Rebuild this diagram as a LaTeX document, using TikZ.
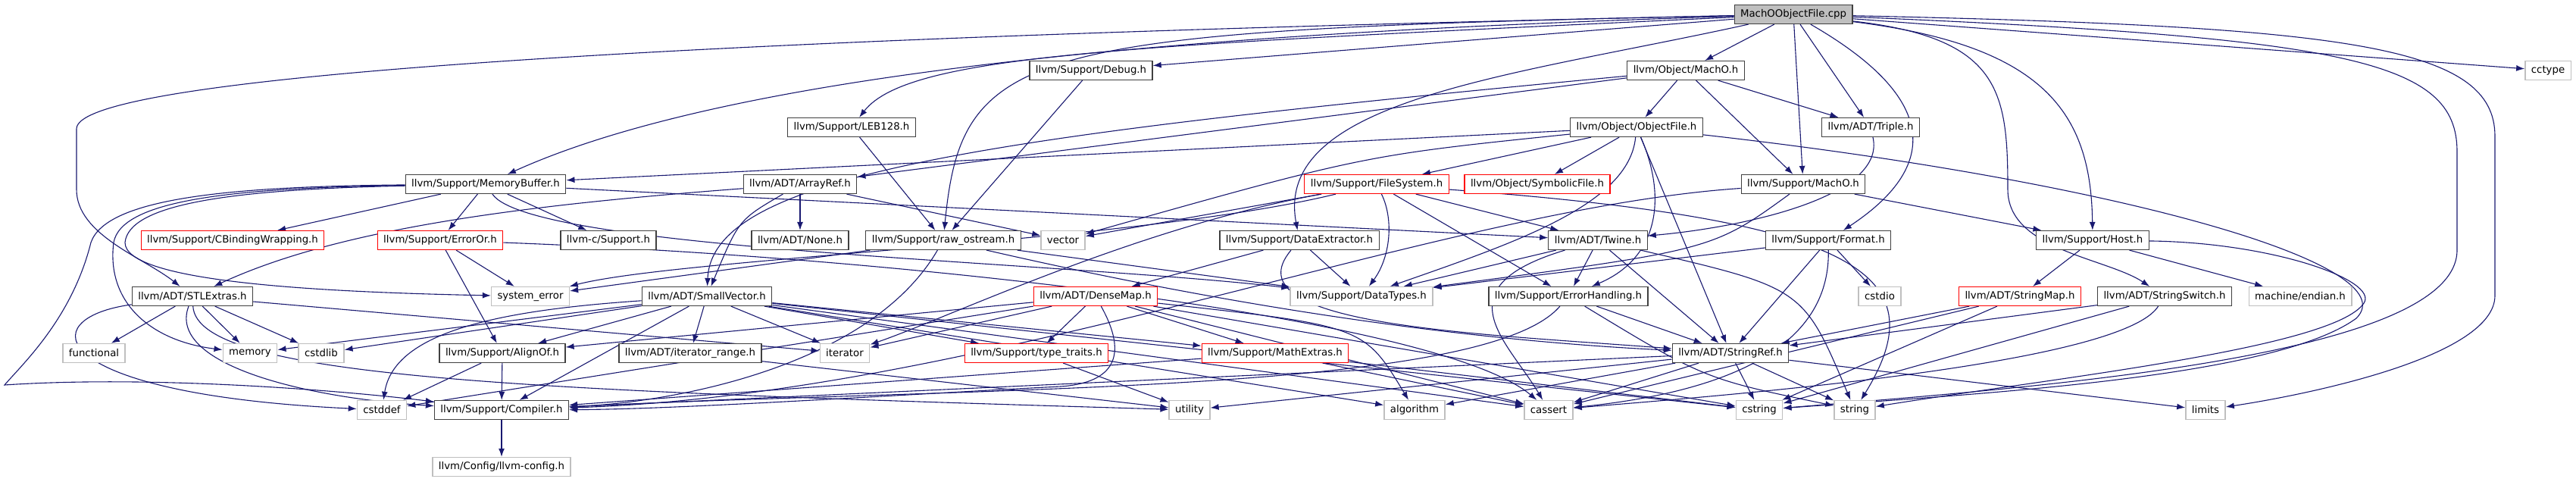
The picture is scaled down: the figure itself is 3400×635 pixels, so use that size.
\documentclass[tikz,border=0pt]{standalone}
\usepackage{fontspec}
\setmainfont{DejaVu Sans}
\usetikzlibrary{arrows.meta}
\definecolor{depblue}{HTML}{191970}
\definecolor{hdrborder}{HTML}{404040}
\definecolor{truncred}{HTML}{FF0000}
\definecolor{sysborder}{HTML}{BFBFBF}
\definecolor{rootfill}{HTML}{BFBFBF}
\pgfdeclarelayer{edges}
\pgfsetlayers{edges,main}
\tikzset{
hdr/.style={
draw=hdrborder,
fill=white,
line width=1.2pt,
minimum height=25pt,
inner xsep=8pt,
inner ysep=0pt,
font=\fontsize{13.3}{16}\selectfont
},
truncated/.style={
hdr,
draw=truncred
},
syshdr/.style={
hdr,
draw=sysborder,
line width=1.4pt
},
rootfile/.style={
hdr,
fill=rootfill
},
dep/.style={
-{Latex[length=11pt,width=8pt]},
line width=1.1pt,
draw=depblue
}
}

\begin{document}
\begin{tikzpicture}[x=1pt, y=-1pt]
\useasboundingbox (0,0) rectangle (3400,635);

% row 0
\node[rootfile] (root) at (2367,19) {MachOObjectFile.cpp};
% row 1
\node[hdr] (debug) at (1440,93) {llvm/Support/Debug.h};
\node[hdr] (objmacho) at (2225,93) {llvm/Object/MachO.h};
\node[syshdr] (cctype) at (3363,93) {cctype};
% row 2
\node[hdr] (leb) at (1124,168) {llvm/Support/LEB128.h};
\node[hdr] (objfile) at (2160,168) {llvm/Object/ObjectFile.h};
\node[hdr] (triple) at (2469,168) {llvm/ADT/Triple.h};
% row 3
\node[hdr] (membuf) at (641,243) {llvm/Support/MemoryBuffer.h};
\node[hdr] (arrayref) at (1056,243) {llvm/ADT/ArrayRef.h};
\node[truncated] (filesys) at (1817,243) {llvm/Support/FileSystem.h};
\node[truncated] (symfile) at (2029,243) {llvm/Object/SymbolicFile.h};
\node[hdr] (supmacho) at (2380,243) {llvm/Support/MachO.h};
% row 4
\node[truncated] (cbind) at (307,317) {llvm/Support/CBindingWrapping.h};
\node[truncated] (erroror) at (581,317) {llvm/Support/ErrorOr.h};
\node[hdr] (csupport) at (803,317) {llvm-c/Support.h};
\node[hdr] (none) at (1056,317) {llvm/ADT/None.h};
\node[hdr] (rawos) at (1245,317) {llvm/Support/raw\_ostream.h};
\node[syshdr] (vector) at (1403,317) {vector};
\node[hdr] (dataext) at (1715,317) {llvm/Support/DataExtractor.h};
\node[hdr] (twine) at (2109,317) {llvm/ADT/Twine.h};
\node[hdr] (format) at (2413,317) {llvm/Support/Format.h};
\node[hdr] (host) at (2762,317) {llvm/Support/Host.h};
% row 5
\node[hdr] (stlext) at (254,391) {llvm/ADT/STLExtras.h};
\node[syshdr] (syserr) at (700,391) {system\_error};
\node[hdr] (smallvec) at (933,391) {llvm/ADT/SmallVector.h};
\node[truncated] (densemap) at (1446,391) {llvm/ADT/DenseMap.h};
\node[syshdr] (datatypes) at (1797,391) {llvm/Support/DataTypes.h};
\node[hdr] (errhand) at (2070,391) {llvm/Support/ErrorHandling.h};
\node[syshdr] (cstdio) at (2481,391) {cstdio};
\node[truncated] (strmap) at (2666,391) {llvm/ADT/StringMap.h};
\node[hdr] (strswitch) at (2857,391) {llvm/ADT/StringSwitch.h};
\node[syshdr] (endian) at (3036,391) {machine/endian.h};
% row 6
\node[syshdr] (functional) at (124,466) {functional};
\node[syshdr] (memory) at (330,466) {memory};
\node[syshdr] (cstdlib) at (424,466) {cstdlib};
\node[hdr] (alignof) at (663,466) {llvm/Support/AlignOf.h};
\node[hdr] (itrange) at (911,466) {llvm/ADT/iterator\_range.h};
\node[syshdr] (iterator) at (1115,466) {iterator};
\node[truncated] (typetraits) at (1368,466) {llvm/Support/type\_traits.h};
\node[truncated] (mathext) at (1683,466) {llvm/Support/MathExtras.h};
\node[hdr] (strref) at (2284,466) {llvm/ADT/StringRef.h};
% row 7
\node[syshdr] (cstddef) at (504,541) {cstddef};
\node[hdr] (compiler) at (662,541) {llvm/Support/Compiler.h};
\node[syshdr] (utility) at (1570,541) {utility};
\node[syshdr] (algorithm) at (1867,541) {algorithm};
\node[syshdr] (cassert) at (2044,541) {cassert};
\node[syshdr] (cstring) at (2322,541) {cstring};
\node[syshdr] (string) at (2448,541) {string};
\node[syshdr] (limits) at (2911,541) {limits};
% row 8
\node[syshdr] (llvmconfig) at (662,616) {llvm/Config/llvm-config.h};

\begin{pgfonlayer}{edges}
% MachOObjectFile.cpp
\foreach \dst in {debug, objmacho, cctype, triple, supmacho}
  \draw[dep] (root) -- (\dst);
\draw[dep] (root) .. controls (1500,60) and (1200,70) .. (leb);
\draw[dep] (root) .. controls (1700,40) and (1000,80) .. (membuf);
\draw[dep] (root) .. controls (1350,40) and (1270,60) .. (rawos);
\draw[dep] (root) .. controls (2000,100) and (1680,130) .. (dataext);
\draw[dep] (root) .. controls (900,50) and (101,100) .. (101,170) -- (101,250)
  .. controls (101,310) and (190,340) .. (stlext);
\draw[dep] (root) .. controls (2560,130) and (2560,220) .. (format);
\draw[dep] (root) .. controls (2700,60) and (2760,150) .. (host);
\draw[dep] (root) .. controls (2640,50) and (2650,120) .. (2650,250)
  .. controls (2650,330) and (2780,340) .. (strswitch);
\draw[dep] (root) .. controls (3100,50) and (3243,80) .. (3243,200) -- (3243,330)
  .. controls (3243,470) and (2700,510) .. (cstring);
\draw[dep] (root) .. controls (3100,35) and (3293,60) .. (3293,180) -- (3293,390)
  .. controls (3293,470) and (3050,520) .. (limits);

% Debug.h, LEB128.h
\draw[dep] (debug) -- (rawos);
\draw[dep] (leb) -- (rawos);

% Object/MachO.h
\foreach \dst in {objfile, triple, supmacho, arrayref}
  \draw[dep] (objmacho) -- (\dst);
\draw[dep] (objmacho) .. controls (1300,180) and (940,230) .. (smallvec);

% ObjectFile.h
\foreach \dst in {membuf, filesys, symfile, strref}
  \draw[dep] (objfile) -- (\dst);
\draw[dep] (objfile) .. controls (1800,205) .. (vector);
\draw[dep] (objfile) .. controls (2150,270) and (2000,320) .. (datatypes);
\draw[dep] (objfile) .. controls (2200,260) and (2190,340) .. (errhand);
\draw[dep] (objfile) .. controls (2800,240) and (3180,350) .. (3110,420)
  .. controls (3000,500) and (2600,520) .. (cstring);

% Triple.h, Support/MachO.h
\draw[dep] (triple) .. controls (2490,260) and (2300,300) .. (twine);
\draw[dep] (supmacho) -- (host);
\draw[dep] (supmacho) .. controls (2260,330) .. (datatypes);
\draw[dep] (supmacho) .. controls (1900,275) and (1300,520) .. (compiler);

% FileSystem.h
\foreach \dst in {twine, errhand, vector}
  \draw[dep] (filesys) -- (\dst);
\draw[dep] (filesys) .. controls (1840,290) and (1835,340) .. (datatypes);
\draw[dep] (filesys) .. controls (1500,320) and (900,340) .. (syserr);
\draw[dep] (filesys) .. controls (1500,300) and (1250,420) .. (iterator);
\draw[dep] (filesys) .. controls (2450,290) and (2560,360) .. (string);

% MemoryBuffer.h
\foreach \dst in {cbind, erroror, csupport, twine}
  \draw[dep] (membuf) -- (\dst);
\draw[dep] (membuf) .. controls (700,330) and (1400,345) .. (datatypes);
\draw[dep] (membuf) .. controls (300,246) and (140,262) .. (120,320)
  .. controls (95,420) and (30,480) .. (6,508)
  .. controls (200,495) and (450,515) .. (compiler);
\draw[dep] (membuf) .. controls (300,248) and (160,265) .. (150,320)
  .. controls (140,400) and (200,450) .. (memory);
\draw[dep] (membuf) .. controls (300,250) and (170,270) .. (165,320)
  .. controls (165,370) and (400,385) .. (syserr);

% ArrayRef.h
\draw[dep] (arrayref) -- (none);
\draw[dep] (arrayref) -- (vector);
\draw[dep] (arrayref) .. controls (975,290) .. (smallvec);
\draw[dep] (arrayref) .. controls (700,270) and (450,300) .. (stlext);

% ErrorOr.h
\draw[dep] (erroror) -- (syserr);
\draw[dep] (erroror) -- (alignof);
\draw[dep] (erroror) .. controls (1200,340) and (1900,420) .. (cassert);

% raw_ostream.h
\draw[dep] (rawos) -- (datatypes);
\draw[dep] (rawos) -- (syserr);
\draw[dep] (rawos) .. controls (1650,410) and (1950,450) .. (strref);
\draw[dep] (rawos) .. controls (1150,480) and (900,530) .. (compiler);

% DataExtractor.h
\draw[dep] (dataext) -- (datatypes);
\draw[dep] (dataext) -- (densemap);
\draw[dep] (dataext) .. controls (1620,430) and (1950,440) .. (strref);

% Twine.h
\foreach \dst in {errhand, datatypes, strref}
  \draw[dep] (twine) -- (\dst);
\draw[dep] (twine) .. controls (1900,380) and (1990,450) .. (cassert);
\draw[dep] (twine) .. controls (2380,380) .. (string);

% Format.h, Host.h
\foreach \dst in {strref, cstdio, datatypes}
  \draw[dep] (format) -- (\dst);
\draw[dep] (format) .. controls (2415,420) and (2350,510) .. (cassert);
\draw[dep] (host) -- (strmap);
\draw[dep] (host) -- (endian);
\draw[dep] (host) .. controls (3000,320) and (3140,370) .. (3120,400)
  .. controls (3080,460) and (2700,500) .. (string);

% STLExtras.h
\foreach \dst in {functional, memory, cstdlib, iterator}
  \draw[dep] (stlext) -- (\dst);
\draw[dep] (stlext) .. controls (40,420) and (60,520) .. (cstddef);
\draw[dep] (stlext) .. controls (220,480) and (400,525) .. (compiler);
\draw[dep] (stlext) .. controls (260,500) and (700,515) .. (utility);

% SmallVector.h
\foreach \dst in {itrange, alignof, compiler, iterator, typetraits, mathext,
                  memory, cstdlib, algorithm, cassert, cstring}
  \draw[dep] (smallvec) -- (\dst);
\draw[dep] (smallvec) .. controls (650,410) and (520,440) .. (cstddef);

% DenseMap.h
\foreach \dst in {typetraits, mathext, iterator, alignof, cstddef, cassert, cstring}
  \draw[dep] (densemap) -- (\dst);
\draw[dep] (densemap) .. controls (1800,430) .. (algorithm);
\draw[dep] (densemap) .. controls (1490,470) and (1470,505) .. (1400,510)
  .. controls (1200,520) and (900,540) .. (compiler);

% ErrorHandling.h
\draw[dep] (errhand) -- (strref);
\draw[dep] (errhand) .. controls (2250,500) .. (string);
\draw[dep] (errhand) .. controls (1960,520) and (1300,510) .. (compiler);

% StringMap.h, StringSwitch.h
\foreach \dst in {strref, cassert, cstring}
  \draw[dep] (strmap) -- (\dst);
\draw[dep] (strswitch) -- (strref);
\draw[dep] (strswitch) -- (cstring);
\draw[dep] (strswitch) .. controls (2800,480) and (2300,520) .. (cassert);

% AlignOf.h, type_traits.h, iterator_range.h, MathExtras.h
\draw[dep] (alignof) -- (compiler);
\draw[dep] (alignof) -- (cstddef);
\draw[dep] (typetraits) -- (utility);
\draw[dep] (itrange) -- (utility);
\foreach \dst in {compiler, cassert, cstring}
  \draw[dep] (mathext) -- (\dst);

% StringRef.h
\foreach \dst in {compiler, utility, algorithm, cassert, cstring, string, limits}
  \draw[dep] (strref) -- (\dst);

% Compiler.h
\draw[dep] (compiler) -- (llvmconfig);
\end{pgfonlayer}

\end{tikzpicture}
\end{document}
